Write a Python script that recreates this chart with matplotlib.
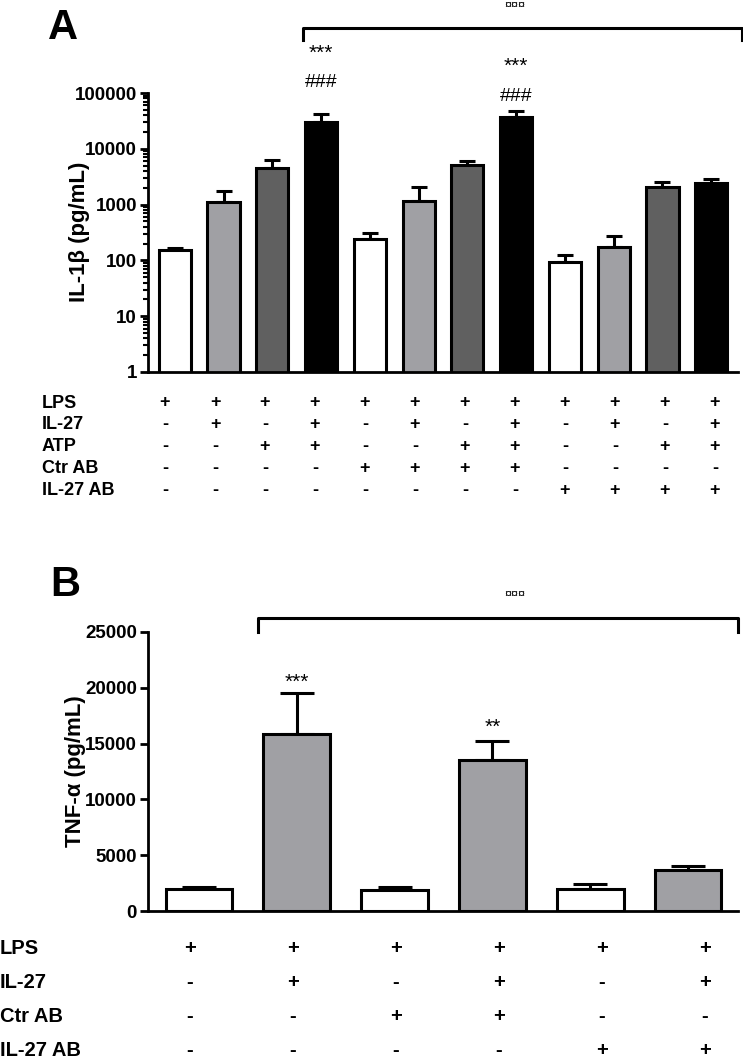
import matplotlib
matplotlib.use("Agg")
import matplotlib.pyplot as plt
import numpy as np

plt.rcParams["font.family"] = ["Liberation Sans", "DejaVu Sans"]
plt.rcParams["font.weight"] = "bold"

# panel A: IL-1b, 12 groups
il1b_mean = [154, 1100, 4550, 30000, 240, 1150, 5100, 37000, 93, 174, 2050, 2450]
il1b_err = [11, 650, 1750, 12000, 70, 900, 900, 11000, 32, 100, 480, 420]
il1b_colors = ["white", "#a0a0a4", "#606060", "black"] * 3
a_rows = ["LPS", "IL-27", "ATP", "Ctr AB", "IL-27 AB"]
a_table = [
    "++++++++++++",
    "-+-+-+-+-+-+",
    "--++--++--++",
    "----++++----",
    "--------++++",
]
a_yticks = [1, 10, 100, 1000, 10000, 100000]

# panel B: TNF-a, 6 groups
tnf_mean = [1950, 15900, 1900, 13500, 2000, 3700]
tnf_err = [200, 3600, 250, 1700, 450, 300]
tnf_colors = ["white", "#a0a0a4"] * 3
b_rows = ["LPS", "IL-27", "Ctr AB", "IL-27 AB"]
b_table = [
    "++++++",
    "-+-+-+",
    "--++--",
    "----++",
]
b_yticks = [0, 5000, 10000, 15000, 20000, 25000]

W, H = 743, 1058
fig = plt.figure(figsize=(W / 100, H / 100), dpi=100)


def fx(px):
    return px / W


def fy(py):
    return 1 - py / H


def style_axis(ax):
    for s in ["top", "right"]:
        ax.spines[s].set_visible(False)
    for s in ["left", "bottom"]:
        ax.spines[s].set_linewidth(2)
    ax.tick_params(axis="y", which="major", width=2, length=6, labelsize=13.5, pad=2)
    ax.tick_params(axis="y", which="minor", width=1.5, length=3.5)
    ax.set_xticks([])


# ---------- A ----------
axA = fig.add_axes([fx(148), fy(372), fx(738 - 148), (372 - 93) / H])
xa = np.arange(len(il1b_mean))
axA.errorbar(xa, il1b_mean, yerr=[np.zeros(len(xa)), il1b_err], fmt="none",
             ecolor="black", elinewidth=2.2, capsize=6, capthick=2.2, zorder=1)
axA.bar(xa, il1b_mean, width=0.66, color=il1b_colors, edgecolor="black",
        linewidth=2.2, zorder=2)
axA.set_yscale("log")
axA.set_ylim(1, 100000)
axA.set_xlim(-0.55, 11.55)
axA.set_yticks(a_yticks)
axA.set_yticklabels([str(v) for v in a_yticks])
style_axis(axA)
axA.yaxis.set_minor_locator(matplotlib.ticker.LogLocator(base=10, subs=np.arange(2, 10)))
axA.yaxis.set_minor_formatter(matplotlib.ticker.NullFormatter())

tA = axA.get_xaxis_transform()
axA.plot([3 - 0.37, 3 - 0.37, 11.64, 11.64], [1.19, 1.233, 1.233, 1.19],
         color="black", lw=2.2, transform=tA, clip_on=False)
axA.text(6.98, 1.312, "¤¤¤", transform=tA, ha="center", va="center",
         fontsize=9, fontweight="normal")
for i, ys, yh in [(3, 1.143, 1.036), (7, 1.097, 0.986)]:
    axA.text(i, ys, "***", transform=tA, ha="center", va="center",
             fontsize=15, fontweight="normal")
    axA.text(i, yh, "###", transform=tA, ha="center", va="center",
             fontsize=14, fontweight="normal")

fig.text(fx(80), fy(232), "IL-1β (pg/mL)", rotation=90, ha="center",
         va="center", fontsize=16)
fig.text(fx(48), fy(28), "A", fontsize=30, ha="left", va="center")

cols_a = np.linspace(165, 715, 12)
for r, (name, signs) in enumerate(zip(a_rows, a_table)):
    y = 403 + r * 21.8
    fig.text(fx(42), fy(y), name, ha="left", va="center", fontsize=13)
    for c, s in enumerate(signs):
        fig.text(fx(cols_a[c]), fy(y), s, ha="center", va="center", fontsize=13)

# ---------- B ----------
axB = fig.add_axes([fx(148), fy(911), fx(738 - 148), (911 - 632) / H])
xb = np.arange(len(tnf_mean))
axB.errorbar(xb, tnf_mean, yerr=[np.zeros(len(xb)), tnf_err], fmt="none",
             ecolor="black", elinewidth=2.2, capsize=12, capthick=2.2, zorder=1)
axB.bar(xb, tnf_mean, width=0.68, color=tnf_colors, edgecolor="black",
        linewidth=2.2, zorder=2)
axB.set_ylim(0, 25000)
axB.set_xlim(-0.52, 5.51)
axB.set_yticks(b_yticks)
style_axis(axB)

tB = axB.get_xaxis_transform()
axB.plot([0.6, 0.6, 5.51, 5.51], [1.0, 1.05, 1.05, 1.0],
         color="black", lw=2.2, transform=tB, clip_on=False)
axB.text(3.23, 1.133, "¤¤¤", transform=tB, ha="center", va="center",
         fontsize=9, fontweight="normal")
axB.text(1, 0.82, "***", transform=tB, ha="center", va="center",
         fontsize=15, fontweight="normal")
axB.text(3, 0.66, "**", transform=tB, ha="center", va="center",
         fontsize=15, fontweight="normal")

fig.text(fx(75), fy(771), "TNF-α (pg/mL)", rotation=90, ha="center",
         va="center", fontsize=16)
fig.text(fx(50), fy(585), "B", fontsize=30, ha="left", va="center")

cols_b = np.linspace(190, 705, 6)
for r, (name, signs) in enumerate(zip(b_rows, b_table)):
    y = 948 + r * 34
    fig.text(fx(0), fy(y), name, ha="left", va="center", fontsize=14.5)
    for c, s in enumerate(signs):
        fig.text(fx(cols_b[c]), fy(y), s, ha="center", va="center", fontsize=14.5)

fig.savefig("out.png", dpi=100)
